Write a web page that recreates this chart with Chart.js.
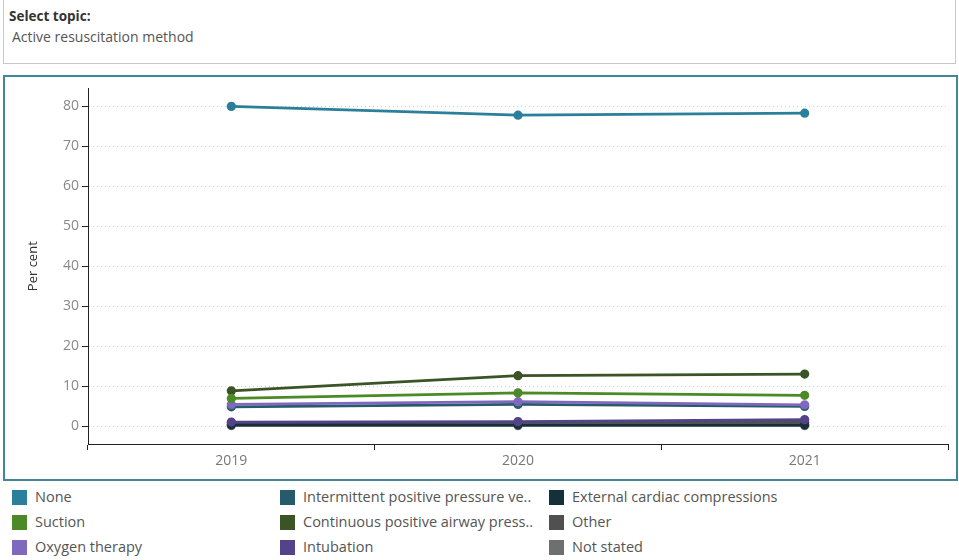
<!DOCTYPE html>
<html>
<head>
<meta charset="utf-8">
<script src="https://cdn.jsdelivr.net/npm/chart.js@4"></script>
<style>
  body { margin: 0; background: #fff; font-family: "Open Sans", Lato, sans-serif; }
  #topic { position: absolute; left: 3px; top: 0; width: 953px; height: 64px; border: 1px solid #c8c8c8; border-top: none; box-sizing: border-box; }
  #topic .lbl { position: absolute; left: 5px; top: 7px; font-size: 13.5px; font-weight: bold; color: #333; }
  #topic .val { position: absolute; left: 8px; top: 27px; font-size: 14px; color: #555; }
  #box { position: absolute; left: 3px; top: 75px; width: 955px; height: 406px; border: 2px solid #3f8799; box-sizing: border-box; }
  #wrap { position: absolute; left: 0; top: 0; width: 951px; height: 402px; }
  #legend { position: absolute; left: 0; top: 485px; width: 959px; height: 75px; }
  .item { position: absolute; height: 16px; font-size: 14.5px; color: #555; line-height: 16px; white-space: nowrap; }
  .item span.sw { position: absolute; left: 0; top: 1px; width: 15px; height: 15px; }
  .item span.tx { position: absolute; left: 23px; top: 0; }
</style>
</head>
<body>
<div id="topic"><div class="lbl">Select topic:</div><div class="val">Active resuscitation method</div></div>
<div id="box"><div id="wrap"><canvas id="chart"></canvas></div></div>
<div id="legend"></div>
<script>
// Active resuscitation method, per cent of births
const years = ['2019', '2020', '2021'];
const seriesNames = ['None', 'Suction', 'Oxygen therapy', 'Intermittent positive pressure ve..',
  'Continuous positive airway press..', 'Intubation', 'External cardiac compressions', 'Other', 'Not stated'];
const seriesColors = ['#2b7f9b', '#4c8a27', '#7f69bf', '#275a6a', '#3a5426', '#54428b', '#16303a', '#505050', '#6c7071'];

const none = [80.0, 77.8, 78.3];
const suction = [6.9, 8.3, 7.7];
const oxygenTherapy = [5.4, 6.1, 5.3];
const ippv = [4.8, 5.4, 4.9];
const cpap = [8.8, 12.6, 13.0];
const intubation = [1.0, 1.1, 1.6];
const externalCardiac = [0.3, 0.3, 0.3];
const other = [0.8, 0.9, 0.9];
const notStated = [0.1, 0.1, 0.1];

const seriesValues = [none, suction, oxygenTherapy, ippv, cpap, intubation, externalCardiac, other, notStated];
const yTicks = [0, 10, 20, 30, 40, 50, 60, 70, 80];

// Legend: three columns of three, reading down
const legendCols = [12, 280, 549];
const legend = document.getElementById('legend');
seriesNames.forEach((name, i) => {
  const div = document.createElement('div');
  div.className = 'item';
  div.style.left = legendCols[Math.floor(i / 3)] + 'px';
  div.style.top = (4 + (i % 3) * 25) + 'px';
  div.innerHTML = '<span class="sw" style="background:' + seriesColors[i] + '"></span><span class="tx">' + name + '</span>';
  legend.appendChild(div);
});

const datasets = seriesValues.map((vals, i) => ({
  label: seriesNames[i],
  data: vals,
  borderColor: seriesColors[i],
  backgroundColor: seriesColors[i],
  borderWidth: 2.75,
  pointRadius: 3.25,
  pointHoverRadius: 3.25,
  tension: 0
}));

new Chart(document.getElementById('chart'), {
  type: 'line',
  data: { labels: years, datasets: datasets },
  options: {
    responsive: true,
    maintainAspectRatio: false,
    animation: false,
    layout: { padding: { top: 10, right: 8, bottom: 0, left: 0 } },
    plugins: { legend: { display: false }, tooltip: { enabled: false } },
    scales: {
      x: {
        offset: true,
        grid: { offset: true, drawOnChartArea: false, color: '#222', tickLength: 6, lineWidth: 1 },
        border: { display: true, color: '#222', width: 1 },
        ticks: { color: '#777', font: { family: 'Open Sans', size: 14 }, padding: 3 },
        afterFit: (s) => { s.height = 35; }
      },
      y: {
        min: -4.5,
        max: 84.5,
        afterBuildTicks: (s) => { s.ticks = yTicks.map(v => ({ value: v })); },
        grid: { color: '#cfcfcf', tickColor: '#222', tickLength: 6, lineWidth: 1, tickBorderDash: [0, 0] },
        border: { display: true, color: '#222', width: 1, dash: [1, 3] },
        ticks: { color: '#888', font: { family: 'Open Sans', size: 14 }, padding: 3 },
        title: { display: true, text: 'Per cent', color: '#333', font: { family: 'Open Sans', size: 13 }, padding: { top: 20, bottom: 0 } },
        afterFit: (s) => { s.width = 83; }
      }
    }
  }
});
</script>
</body>
</html>
